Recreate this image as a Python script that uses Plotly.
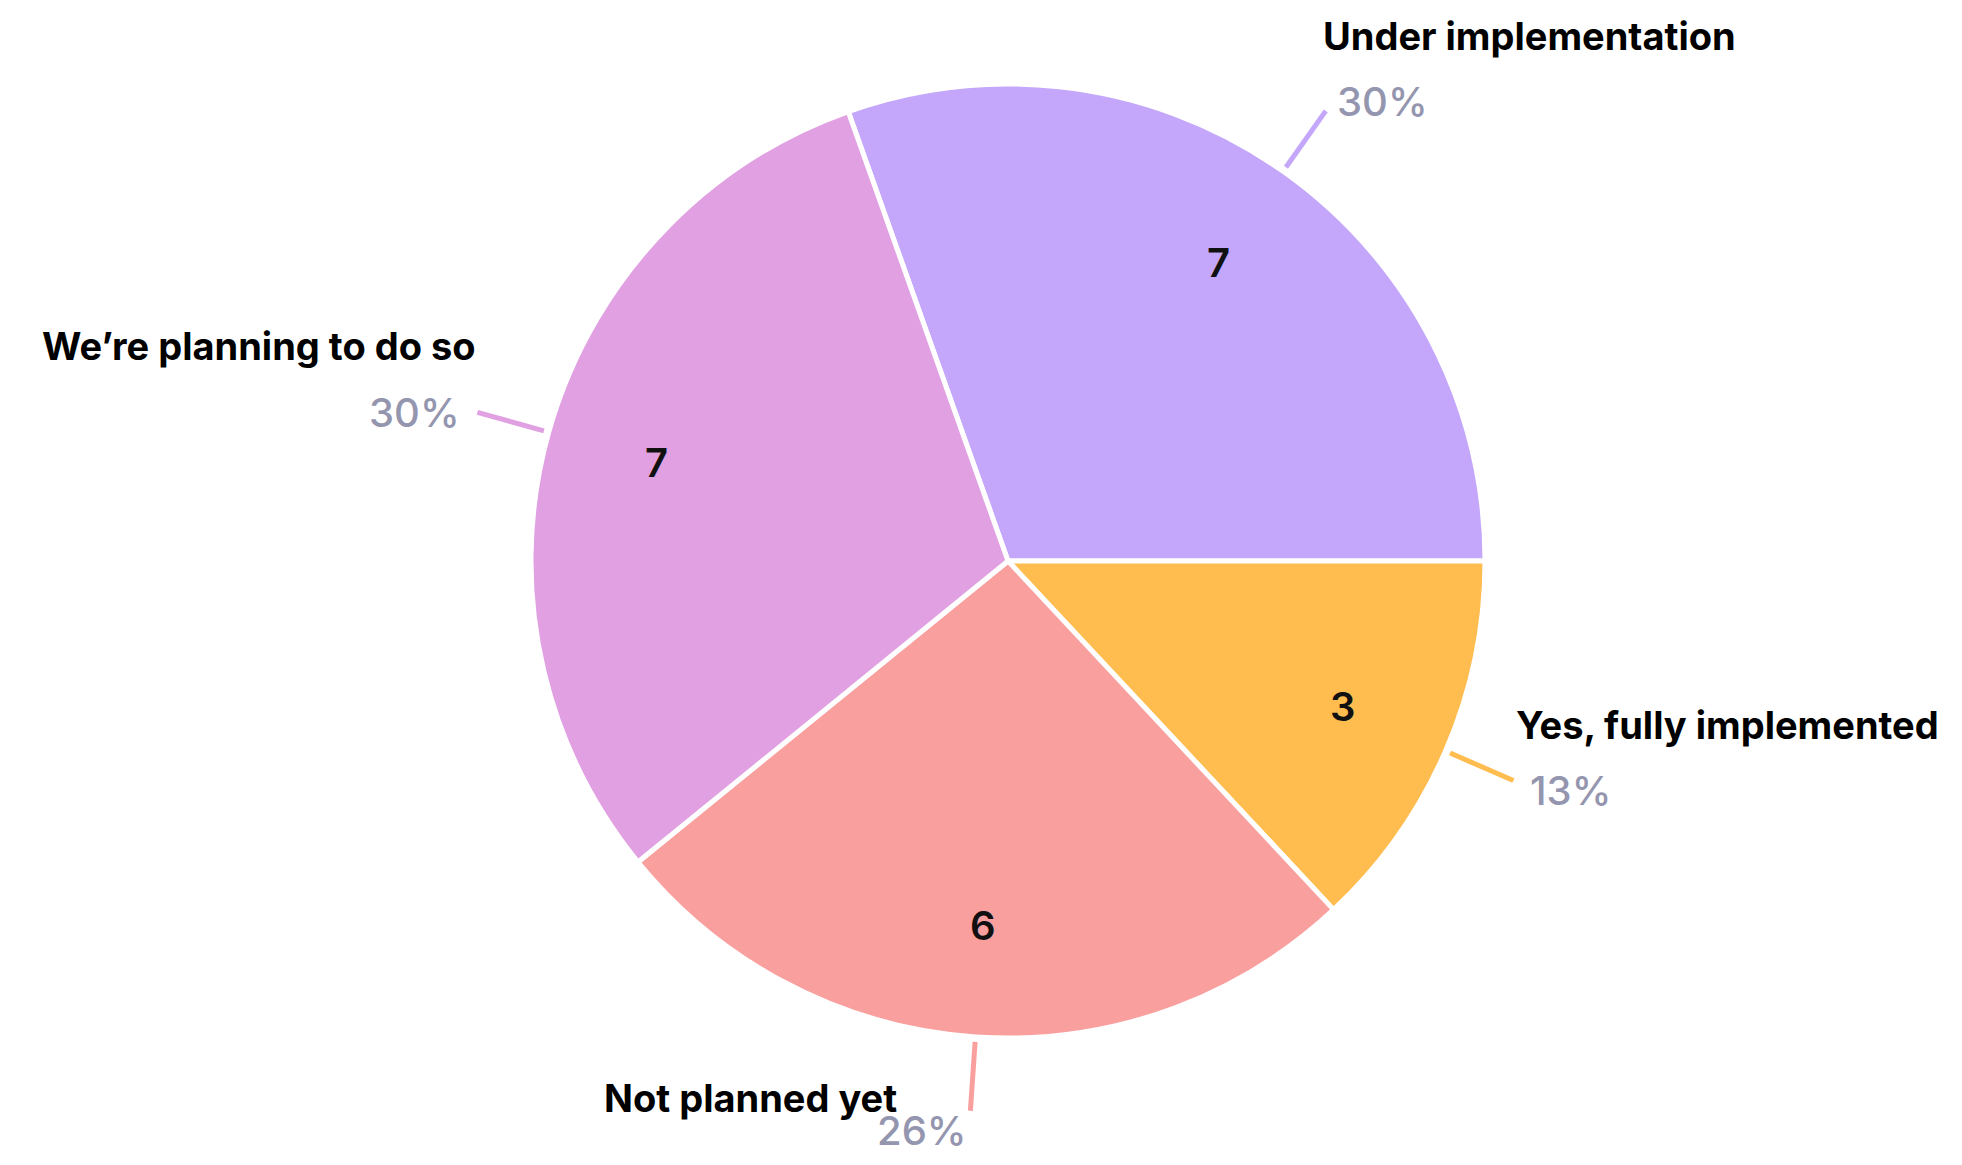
import math
import plotly.graph_objects as go

# survey answers, clockwise from the top-left slice
labels = ["Under implementation", "Yes, fully implemented", "Not planned yet", "We’re planning to do so"]
counts = [7, 3, 6, 7]
colors = ["#C4A7FA", "#FFBC4F", "#F9A09F", "#E0A0E2"]

# figure is drawn inside the page's 8px body margin
W, H = 1946, 1149
CX, CY, R = 1000, 553, 477  # pie centre and radius in pixels

total = sum(counts)
# first slice ends exactly at 3 o'clock
rotation = 90 - 360 * counts[0] / total


def to_paper(px, py):
    return px / W, 1 - py / H


fig = go.Figure()
fig.add_trace(
    go.Pie(
        labels=labels,
        values=counts,
        sort=False,
        direction="clockwise",
        rotation=rotation,
        marker=dict(colors=colors, line=dict(color="white", width=5)),
        textinfo="none",
        hoverinfo="label+value+percent",
        showlegend=False,
        domain=dict(
            x=[(CX - R) / W, (CX + R) / W],
            y=[(H - CY - R) / H, (H - CY + R) / H],
        ),
    )
)

annotations = []
shapes = []
angle = rotation
for name, n, col in zip(labels, counts, colors):
    span = 360 * n / total
    mid = math.radians(angle + span / 2)
    angle += span
    sx, sy = math.sin(mid), -math.cos(mid)

    # value inside the slice
    x, y = to_paper(CX + 0.765 * R * sx, CY + 0.765 * R * sy)
    annotations.append(dict(
        x=x, y=y, xref="paper", yref="paper", text=str(n), showarrow=False,
        xanchor="center", yanchor="middle",
        font=dict(family="Inter", size=40, color="#111111", weight=600),
    ))

    # leader line
    x0, y0 = to_paper(CX + (R + 5) * sx, CY + (R + 5) * sy)
    x1, y1 = to_paper(CX + (R + 74) * sx, CY + (R + 74) * sy)
    shapes.append(dict(type="line", xref="paper", yref="paper", x0=x0, y0=y0, x1=x1, y1=y1,
                       line=dict(color=col, width=5)))

    # percentage
    side = "left" if sx > 0 else "right"
    px_, py_ = to_paper(CX + (R + 90) * sx, CY + (R + 90) * sy)
    annotations.append(dict(
        x=px_, y=py_, xref="paper", yref="paper", text=f"{round(100 * n / total)}%",
        showarrow=False, xanchor=side, yanchor="middle", yshift=-4,
        font=dict(family="Inter", size=40, color="#9495AE", weight=500),
    ))

    # category name
    font = dict(family="Inter", size=38, color="#000000", weight=700)
    if abs(sx) < 0.3:
        # slices at the bottom: name sits beside the end of the line
        annotations.append(dict(
            x=x1, y=y1, xref="paper", yref="paper", text=name, showarrow=False,
            xanchor="right" if sx <= 0 else "left", yanchor="middle",
            xshift=-71 if sx <= 0 else 71, yshift=13, font=font,
        ))
    else:
        annotations.append(dict(
            x=px_, y=py_, xref="paper", yref="paper", text=name, showarrow=False,
            xanchor=side, yanchor="middle", yshift=62,
            xshift=-14 if sx > 0 else 16, font=font,
        ))

fig.update_layout(
    width=W,
    height=H,
    autosize=False,
    margin=dict(l=0, r=0, t=0, b=0),
    paper_bgcolor="white",
    plot_bgcolor="white",
    annotations=annotations,
    shapes=shapes,
)

fig.write_html("out.html")
